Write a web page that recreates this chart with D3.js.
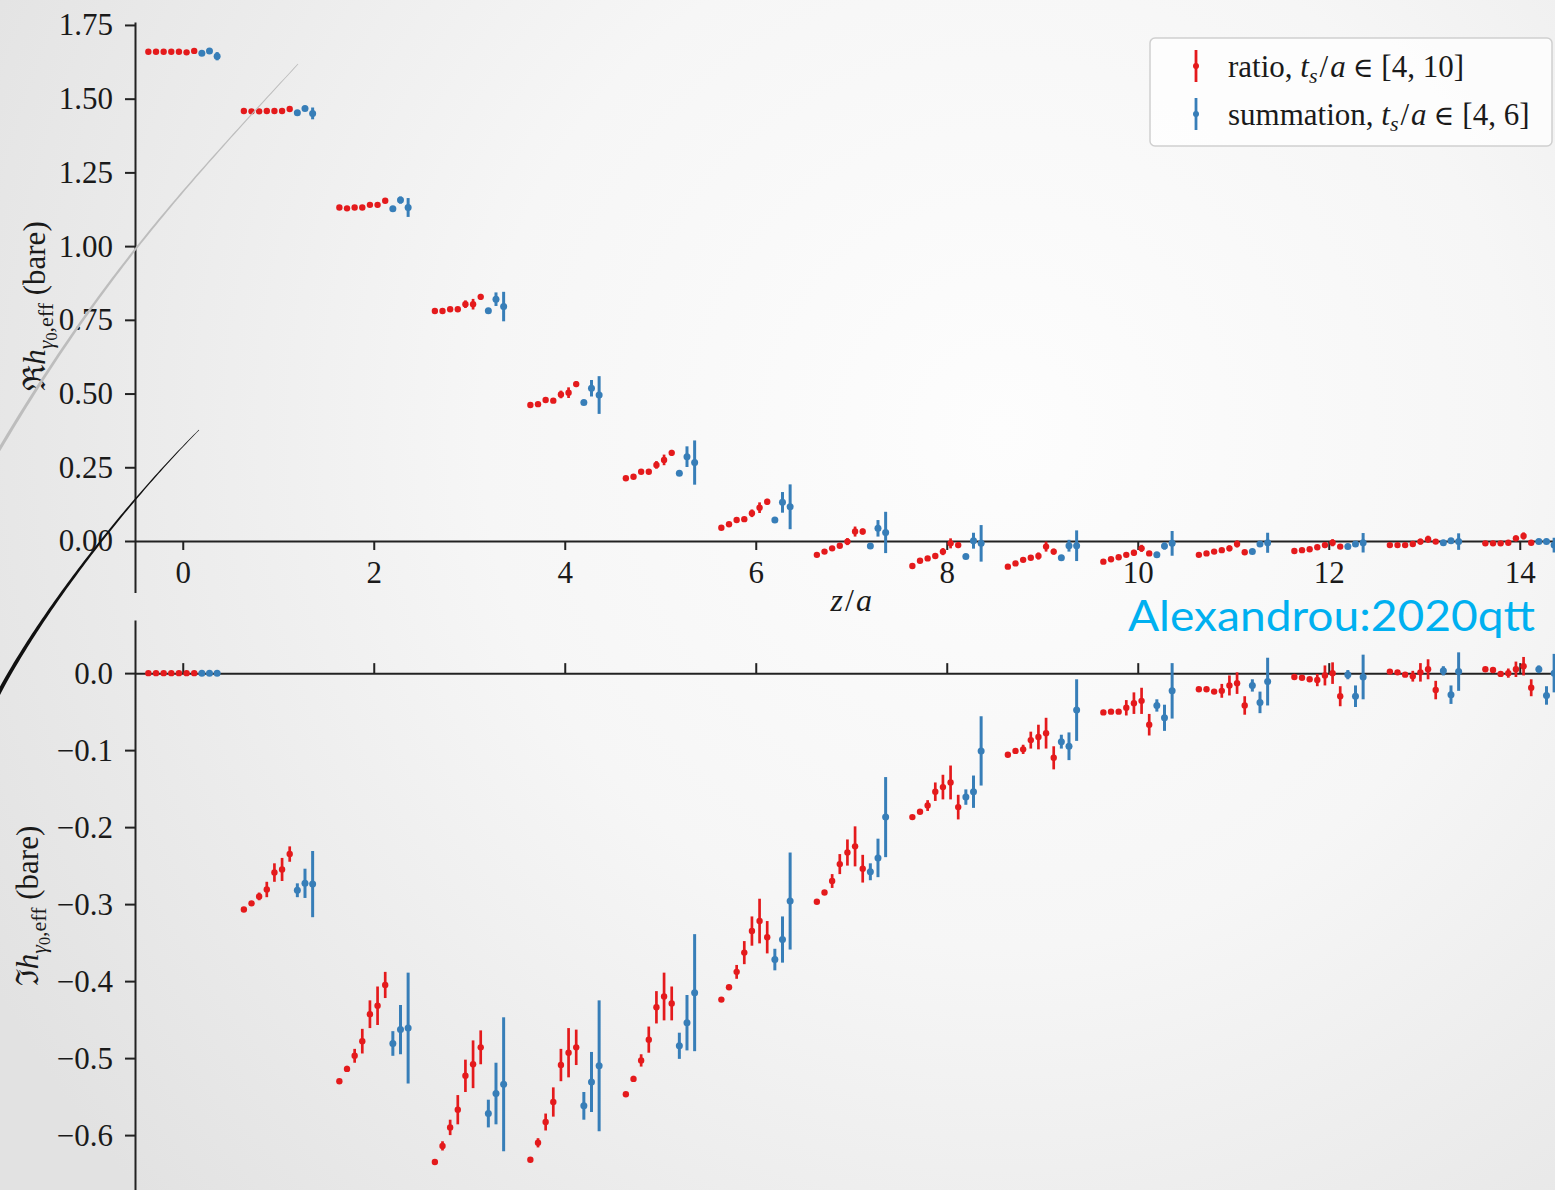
<!DOCTYPE html>
<html>
<head>
<meta charset="utf-8">
<script src="https://cdn.jsdelivr.net/npm/d3@7"></script>
<style>
  html, body { margin: 0; padding: 0; background: #f0f0f0; }
  svg { display: block; }
</style>
</head>
<body>
<svg id="chart" width="1555" height="1190"></svg>
<script>
// ---------------- data ----------------
const zValues = d3.range(0, 15);                 // z/a
const ratioTs = [4, 5, 6, 7, 8, 9, 10];           // ratio points, t_s/a
const summFits = ["s1", "s2", "s3"];              // summation fits, t_s/a in [4,6]

// Real part, ratio method (one row per z)
const reRatio = [
  [1.659, 1.659, 1.659, 1.659, 1.659, 1.657, 1.662],
  [1.458, 1.457, 1.457, 1.458, 1.458, 1.458, 1.465],
  [1.131, 1.128, 1.131, 1.131, 1.140, 1.140, 1.154],
  [0.780, 0.780, 0.786, 0.786, 0.803, 0.803, 0.828],
  [0.461, 0.464, 0.478, 0.476, 0.497, 0.503, 0.532],
  [0.213, 0.218, 0.235, 0.235, 0.258, 0.275, 0.299],
  [0.045, 0.057, 0.071, 0.074, 0.094, 0.113, 0.133],
  [-0.047, -0.036, -0.025, -0.016, -0.002, 0.032, 0.032],
  [-0.085, -0.067, -0.059, -0.051, -0.036, -0.008, -0.014],
  [-0.087, -0.076, -0.064, -0.057, -0.051, -0.019, -0.036],
  [-0.070, -0.062, -0.055, -0.047, -0.040, -0.025, -0.042],
  [-0.047, -0.042, -0.036, -0.031, -0.025, -0.010, -0.038],
  [-0.034, -0.031, -0.028, -0.021, -0.014, -0.006, -0.019],
  [-0.014, -0.014, -0.014, -0.010, -0.002, 0.006, -0.002],
  [-0.008, -0.008, -0.008, -0.006, 0.009, 0.017, -0.006]
];
const reRatioErr = [
  [0.002, 0.002, 0.002, 0.002, 0.003, 0.004, 0.003],
  [0.002, 0.002, 0.002, 0.002, 0.003, 0.004, 0.003],
  [0.002, 0.002, 0.003, 0.003, 0.006, 0.008, 0.005],
  [0.002, 0.003, 0.004, 0.006, 0.013, 0.018, 0.010],
  [0.002, 0.003, 0.004, 0.006, 0.013, 0.018, 0.010],
  [0.002, 0.003, 0.004, 0.006, 0.013, 0.018, 0.010],
  [0.002, 0.003, 0.004, 0.006, 0.013, 0.018, 0.010],
  [0.002, 0.003, 0.004, 0.007, 0.012, 0.017, 0.010],
  [0.002, 0.003, 0.004, 0.007, 0.012, 0.017, 0.010],
  [0.002, 0.003, 0.004, 0.007, 0.012, 0.017, 0.010],
  [0.002, 0.002, 0.003, 0.005, 0.010, 0.012, 0.008],
  [0.002, 0.002, 0.003, 0.005, 0.010, 0.012, 0.008],
  [0.002, 0.002, 0.003, 0.005, 0.010, 0.012, 0.008],
  [0.002, 0.002, 0.003, 0.005, 0.010, 0.012, 0.008],
  [0.002, 0.002, 0.003, 0.005, 0.010, 0.012, 0.008]
];
// Real part, summation method
const reSumm = [
  [1.654, 1.662, 1.644], [1.452, 1.467, 1.450], [1.127, 1.156, 1.131],
  [0.781, 0.820, 0.795], [0.470, 0.518, 0.495], [0.230, 0.286, 0.266],
  [0.071, 0.131, 0.116], [-0.017, 0.043, 0.029], [-0.053, 0.001, -0.008],
  [-0.057, -0.016, -0.016], [-0.047, -0.017, -0.008], [-0.036, -0.010, -0.006],
  [-0.019, -0.010, -0.006], [-0.006, 0.001, -0.002], [-0.002, -0.002, -0.014]
];
const reSummErr = [
  [0.003, 0.004, 0.014], [0.003, 0.006, 0.020], [0.004, 0.012, 0.032],
  [0.005, 0.023, 0.050], [0.006, 0.028, 0.064], [0.007, 0.035, 0.075],
  [0.007, 0.035, 0.076], [0.006, 0.028, 0.070], [0.005, 0.027, 0.062],
  [0.005, 0.020, 0.052], [0.004, 0.012, 0.042], [0.004, 0.010, 0.034],
  [0.003, 0.010, 0.033], [0.003, 0.008, 0.028], [0.003, 0.008, 0.025]
];

// Imaginary part, ratio method
const imRatio = [
  [0.000, 0.000, 0.000, 0.000, 0.000, 0.000, 0.000],
  [-0.307, -0.299, -0.290, -0.281, -0.259, -0.255, -0.235],
  [-0.530, -0.514, -0.497, -0.478, -0.443, -0.432, -0.405],
  [-0.635, -0.614, -0.590, -0.567, -0.523, -0.508, -0.486],
  [-0.632, -0.610, -0.583, -0.557, -0.509, -0.493, -0.486],
  [-0.547, -0.527, -0.503, -0.476, -0.434, -0.420, -0.429],
  [-0.424, -0.408, -0.388, -0.363, -0.335, -0.322, -0.343],
  [-0.297, -0.285, -0.270, -0.248, -0.233, -0.225, -0.254],
  [-0.187, -0.180, -0.172, -0.154, -0.148, -0.142, -0.174],
  [-0.106, -0.101, -0.099, -0.087, -0.083, -0.078, -0.110],
  [-0.051, -0.050, -0.050, -0.045, -0.039, -0.036, -0.067],
  [-0.021, -0.021, -0.024, -0.023, -0.016, -0.013, -0.042],
  [-0.005, -0.006, -0.008, -0.009, -0.003, 0.000, -0.030],
  [0.002, 0.001, -0.002, -0.004, 0.001, 0.005, -0.022],
  [0.005, 0.004, -0.001, 0.000, 0.005, 0.009, -0.019]
];
const imRatioErr = [
  [0.001, 0.001, 0.001, 0.001, 0.001, 0.001, 0.001],
  [0.002, 0.003, 0.005, 0.010, 0.012, 0.015, 0.010],
  [0.002, 0.004, 0.009, 0.016, 0.018, 0.025, 0.017],
  [0.003, 0.006, 0.010, 0.019, 0.021, 0.031, 0.022],
  [0.003, 0.006, 0.011, 0.019, 0.021, 0.032, 0.023],
  [0.002, 0.004, 0.008, 0.017, 0.021, 0.031, 0.022],
  [0.002, 0.003, 0.009, 0.015, 0.019, 0.029, 0.021],
  [0.002, 0.003, 0.009, 0.013, 0.017, 0.026, 0.018],
  [0.002, 0.002, 0.007, 0.012, 0.016, 0.022, 0.016],
  [0.001, 0.002, 0.006, 0.011, 0.016, 0.020, 0.015],
  [0.001, 0.002, 0.003, 0.010, 0.014, 0.017, 0.014],
  [0.001, 0.001, 0.002, 0.009, 0.013, 0.014, 0.012],
  [0.001, 0.001, 0.002, 0.008, 0.013, 0.014, 0.013],
  [0.001, 0.001, 0.002, 0.007, 0.012, 0.013, 0.012],
  [0.001, 0.001, 0.002, 0.006, 0.010, 0.012, 0.011]
];
// Imaginary part, summation method
const imSumm = [
  [0.000, 0.000, 0.000], [-0.282, -0.273, -0.274], [-0.481, -0.463, -0.461],
  [-0.572, -0.546, -0.534], [-0.562, -0.531, -0.510], [-0.484, -0.454, -0.415],
  [-0.372, -0.346, -0.296], [-0.258, -0.240, -0.187], [-0.161, -0.154, -0.101],
  [-0.089, -0.095, -0.048], [-0.042, -0.058, -0.023], [-0.016, -0.038, -0.011],
  [-0.002, -0.030, -0.005], [0.003, -0.028, 0.002], [0.005, -0.029, 0.000]
];
const imSummErr = [
  [0.001, 0.001, 0.001], [0.009, 0.019, 0.043], [0.016, 0.032, 0.072],
  [0.018, 0.040, 0.087], [0.018, 0.039, 0.085], [0.017, 0.036, 0.076],
  [0.014, 0.030, 0.063], [0.011, 0.025, 0.052], [0.010, 0.021, 0.045],
  [0.009, 0.018, 0.040], [0.008, 0.017, 0.036], [0.008, 0.014, 0.031],
  [0.006, 0.014, 0.029], [0.006, 0.012, 0.025], [0.005, 0.012, 0.025]
];

const xTicks = [0, 2, 4, 6, 8, 10, 12, 14];
const reTicks = [0, 0.25, 0.5, 0.75, 1.0, 1.25, 1.5, 1.75];
const imTicks = [0, -0.1, -0.2, -0.3, -0.4, -0.5, -0.6];
const legendLabels = ["ratio", "summation"];
const legendRanges = ["[4, 10]", "[4, 6]"];
const sourceTag = "Alexandrou:2020qtt";

// ---------------- setup ----------------
const W = 1555, H = 1190;
const RED = "#e41a1c", BLUE = "#377eb8", AXIS = "#222222";
const SERIF = "'Liberation Serif', 'Times New Roman', serif";
const svg = d3.select("#chart");
const defs = svg.append("defs");

// soft radial backdrop
const bg = defs.append("radialGradient").attr("id", "bgGrad")
  .attr("gradientUnits", "userSpaceOnUse")
  .attr("cx", 1000).attr("cy", 430).attr("r", 1150);
bg.append("stop").attr("offset", 0).attr("stop-color", "#fdfdfd");
bg.append("stop").attr("offset", 0.45).attr("stop-color", "#f6f6f6");
bg.append("stop").attr("offset", 1).attr("stop-color", "#e2e2e2");
svg.append("rect").attr("width", W).attr("height", H).attr("fill", "url(#bgGrad)");

const x = d3.scaleLinear().domain([-0.5, 14.5]).range([135, 1567.5]);
const yRe = d3.scaleLinear().domain([-0.175, 1.76]).range([592.6, 22]);
const yIm = d3.scaleLinear().domain([-0.68, 0.069]).range([1196.7, 620]);

// horizontal position of point k (0..9) within a z group
const slot = d3.scaleLinear().domain([0, 9]).range([-0.36, 0.36]);

function styleAxis(g) {
  g.select(".domain").attr("stroke", AXIS).attr("stroke-width", 2);
  g.selectAll(".tick line").attr("stroke", AXIS).attr("stroke-width", 2);
  g.selectAll(".tick text").attr("fill", "#1a1a1a")
    .style("font-family", SERIF).style("font-size", "31px");
}

// ---------------- axes ----------------
const gReY = svg.append("g").attr("transform", `translate(${x(-0.5)},0)`)
  .call(d3.axisLeft(yRe).tickValues(reTicks).tickFormat(d3.format(".2f"))
    .tickSize(10).tickSizeOuter(0).tickPadding(12));
styleAxis(gReY);

const gReX = svg.append("g").attr("transform", `translate(0,${yRe(0)})`)
  .call(d3.axisBottom(x).tickValues(xTicks).tickFormat(d3.format("d"))
    .tickSize(9).tickSizeOuter(0).tickPadding(11));
styleAxis(gReX);

const gImY = svg.append("g").attr("transform", `translate(${x(-0.5)},0)`)
  .call(d3.axisLeft(yIm).tickValues(imTicks).tickFormat(d3.format(".1f"))
    .tickSize(10).tickSizeOuter(0).tickPadding(12));
styleAxis(gImY);

const gImX = svg.append("g").attr("transform", `translate(0,${yIm(0)})`)
  .call(d3.axisTop(x).tickValues(xTicks).tickFormat("")
    .tickSize(10).tickSizeOuter(0));
styleAxis(gImX);

// ---------------- axis titles ----------------
const xLab = svg.append("text").attr("x", x(7)).attr("y", 611)
  .attr("text-anchor", "middle").style("font-family", SERIF)
  .style("font-size", "32px").attr("fill", "#1a1a1a");
xLab.append("tspan").style("font-style", "italic").text("z");
xLab.append("tspan").attr("dx", 2).text("/");
xLab.append("tspan").attr("dx", 2).style("font-style", "italic").text("a");

function yTitle(cx, cy, symbol) {
  const t = svg.append("text")
    .attr("transform", `translate(${cx},${cy}) rotate(-90)`)
    .attr("text-anchor", "middle").style("font-family", SERIF)
    .style("font-size", "31px").attr("fill", "#1a1a1a");
  t.append("tspan").text(symbol);
  t.append("tspan").style("font-style", "italic").text("h");
  t.append("tspan").attr("dy", 8).style("font-size", "22px").style("font-style", "italic").text("γ");
  t.append("tspan").attr("dy", 4).style("font-size", "16px").text("0");
  t.append("tspan").attr("dy", -4).style("font-size", "22px").text(",eff");
  t.append("tspan").attr("dy", -8).text(" (bare)");
}
yTitle(45, 306, "ℜ");
yTitle(38, 906, "ℑ");

// ---------------- error-bar points ----------------
function drawPanel(y, ratioVals, ratioErrs, summVals, summErrs) {
  const pts = [];
  zValues.forEach((z, zi) => {
    ratioTs.forEach((ts, k) => pts.push({
      x: z + slot(k), v: ratioVals[zi][k], e: ratioErrs[zi][k], c: RED, r: 3.2, w: 2.7
    }));
    summFits.forEach((f, k) => pts.push({
      x: z + slot(7 + k), v: summVals[zi][k], e: summErrs[zi][k], c: BLUE, r: 3.5, w: 3
    }));
  });
  const g = svg.append("g");
  g.selectAll("line.err").data(pts).join("line").attr("class", "err")
    .attr("x1", d => x(d.x)).attr("x2", d => x(d.x))
    .attr("y1", d => y(d.v - d.e)).attr("y2", d => y(d.v + d.e))
    .attr("stroke", d => d.c).attr("stroke-width", d => d.w);
  g.selectAll("circle.pt").data(pts).join("circle").attr("class", "pt")
    .attr("cx", d => x(d.x)).attr("cy", d => y(d.v)).attr("r", d => d.r)
    .attr("fill", d => d.c);
}
drawPanel(yRe, reRatio, reRatioErr, reSumm, reSummErr);
drawPanel(yIm, imRatio, imRatioErr, imSumm, imSummErr);

// ---------------- legend ----------------
const leg = svg.append("g");
leg.append("rect").attr("x", 1150).attr("y", 38).attr("width", 402).attr("height", 108)
  .attr("rx", 5).attr("fill", "rgba(255,255,255,0.75)")
  .attr("stroke", "#cfcfcf").attr("stroke-width", 1.5);
[RED, BLUE].forEach((c, i) => {
  const cy = 66 + i * 48;
  leg.append("line").attr("x1", 1196).attr("x2", 1196)
    .attr("y1", cy - 16).attr("y2", cy + 16)
    .attr("stroke", c).attr("stroke-width", 2.8);
  leg.append("circle").attr("cx", 1196).attr("cy", cy).attr("r", 3).attr("fill", c);
  const t = leg.append("text").attr("x", 1228).attr("y", cy + 11)
    .style("font-family", SERIF).style("font-size", "31px").attr("fill", "#1a1a1a");
  t.append("tspan").text(legendLabels[i] + ", ");
  t.append("tspan").style("font-style", "italic").text("t");
  t.append("tspan").attr("dy", 6).style("font-size", "22px").style("font-style", "italic").text("s");
  t.append("tspan").attr("dy", -6).attr("dx", 2).text("/");
  t.append("tspan").attr("dx", 2).style("font-style", "italic").text("a");
  t.append("tspan").attr("dx", 7).style("font-family", "'DejaVu Serif', serif")
    .style("font-size", "28px").text("∈");
  t.append("tspan").attr("dx", 8).text(legendRanges[i]);
});

// ---------------- source tag ----------------
svg.append("text").attr("x", 1128).attr("y", 631)
  .attr("textLength", 407).attr("lengthAdjust", "spacingAndGlyphs")
  .style("font-family", "Lato, 'Open Sans', sans-serif")
  .style("font-size", "42px").attr("fill", "#00b0f0").text(sourceTag);

// ---------------- decorative swooshes on the left edge ----------------
function swoosh(p, w0, w1, fill) {
  const n = 80, left = [], right = [];
  for (let k = 0; k <= n; k++) {
    const t = k / n, m = 1 - t;
    const bx = m*m*m*p[0][0] + 3*m*m*t*p[1][0] + 3*m*t*t*p[2][0] + t*t*t*p[3][0];
    const by = m*m*m*p[0][1] + 3*m*m*t*p[1][1] + 3*m*t*t*p[2][1] + t*t*t*p[3][1];
    const dx = 3*m*m*(p[1][0]-p[0][0]) + 6*m*t*(p[2][0]-p[1][0]) + 3*t*t*(p[3][0]-p[2][0]);
    const dy = 3*m*m*(p[1][1]-p[0][1]) + 6*m*t*(p[2][1]-p[1][1]) + 3*t*t*(p[3][1]-p[2][1]);
    const len = Math.hypot(dx, dy) || 1;
    const hw = (w0 + (w1 - w0) * t) / 2;
    left.push([bx - dy / len * hw, by + dx / len * hw]);
    right.push([bx + dy / len * hw, by - dx / len * hw]);
  }
  svg.append("path").attr("d", d3.line()(left.concat(right.reverse())) + "Z")
    .attr("fill", fill);
}
swoosh([[-4, 455], [100, 279], [178, 194], [298, 64]], 3.2, 0.8, "#bdbdbd");
swoosh([[-6, 702], [40, 612], [129, 500], [199, 430]], 4.2, 0.6, "#111111");
</script>
</body>
</html>
